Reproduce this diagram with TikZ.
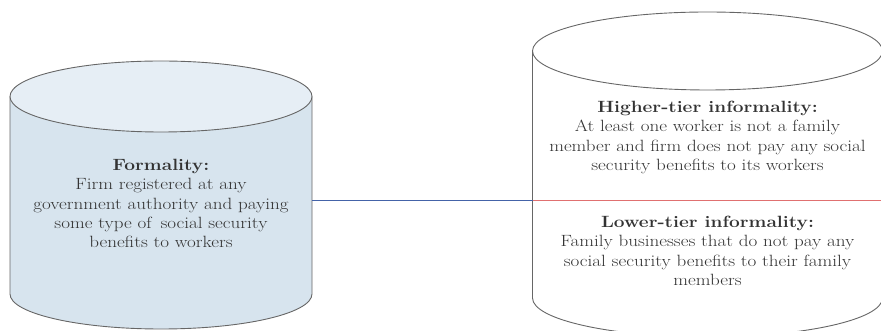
\documentclass[tikz,border=0pt]{standalone}
\usepackage{tikz}
\usetikzlibrary{positioning,calc}
\definecolor{bodyblue}{HTML}{D7E4EE}
\definecolor{topblue}{HTML}{E6EEF5}
\definecolor{edgegray}{HTML}{666666}
\definecolor{linkblue}{HTML}{4463A8}
\definecolor{linkred}{HTML}{E07070}

\begin{document}
\begin{tikzpicture}[
        x=1pt, y=1pt,
        outline/.style={draw=edgegray, line width=0.9pt},
        link/.style={line width=1pt},
        every node/.style={color=black!80, align=center, xscale=1.17,
            transform shape, font=\fontsize{16.3}{19.3}\selectfont},
    ]
    \useasboundingbox (0,0) rectangle (881,331);
    \clip (0,0) rectangle (881,331);
    % left cylinder
    \filldraw[outline, fill=bodyblue] (10,234.5) -- (10,37)
        arc[start angle=180, end angle=360, x radius=151, y radius=35]
        -- (312,234.5);
    \filldraw[outline, fill=topblue] (161,234.5) ellipse [x radius=151, y radius=35.5];
    \coordinate (formal_r) at (312,130);
    % right cylinder
    \draw[outline] (532.5,280) -- (532.5,33)
        arc[start angle=180, end angle=360, x radius=175, y radius=39]
        -- (882.5,280);
    \draw[outline] (707.5,280) ellipse [x radius=175, y radius=39];
    \coordinate (informal_l) at (532.5,130);
    \coordinate (informal_r) at (882.5,130);

    \node at (161,127.5) (formal) {\textbf{Formality:}\\Firm registered at any\\
        government authority and paying\\some type of\, social security\\
        benefits to workers};
    \node at (707.5,193.5) (higher) {\textbf{Higher-tier informality:}\\
        At least one worker is not a family\\
        member and firm does not pay any social\\
        security benefits to its workers};
    \node at (707.5,80) (lower) {\textbf{Lower-tier informality:}\\
        Family businesses that do not pay any\\
        social security benefits to their family\\members};

    \draw[link, linkblue] (formal_r) -- (informal_l);
    \draw[link, linkred] (informal_l) -- (informal_r);
\end{tikzpicture}
\end{document}
